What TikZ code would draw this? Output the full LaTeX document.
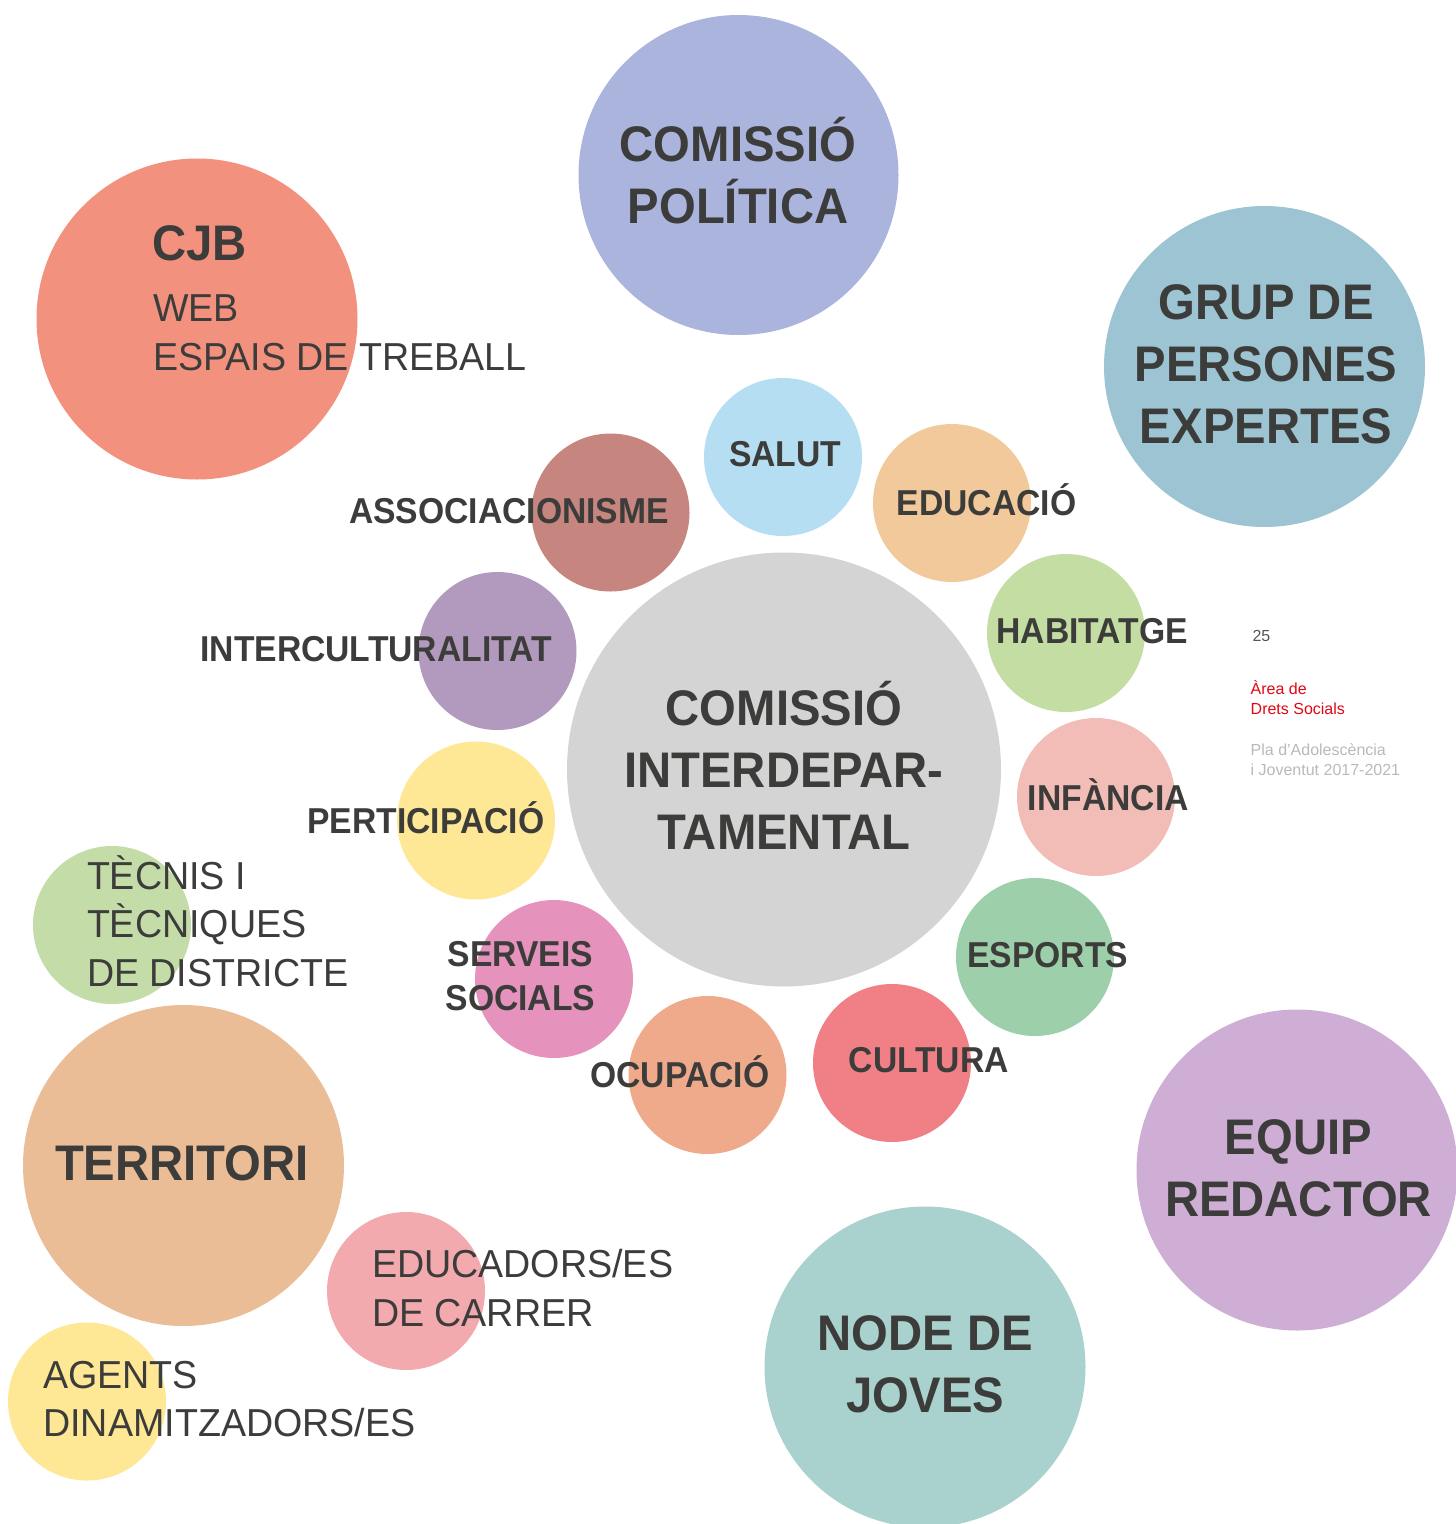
\documentclass[tikz,border=0pt]{standalone}
\usepackage{fontspec}
\setmainfont{Liberation Sans}
\newfontfamily\boldf{Liberation Sans}[FakeStretch=0.945]
\newfontfamily\boldsf{Liberation Sans}[FakeStretch=0.935]
\newfontfamily\regf{Liberation Sans}[FakeStretch=0.965]
\definecolor{txt}{HTML}{3C3C3B}
\definecolor{cpolit}{HTML}{AAB4DD}
\definecolor{ccjb}{HTML}{F2917E}
\definecolor{cgrup}{HTML}{9DC4D2}
\definecolor{ccentral}{HTML}{D4D4D4}
\definecolor{csalut}{HTML}{B6DEF2}
\definecolor{ceduc}{HTML}{F2C99B}
\definecolor{chabit}{HTML}{C3DDA2}
\definecolor{cinfan}{HTML}{F3BDB7}
\definecolor{cespor}{HTML}{9ECFAB}
\definecolor{ccultu}{HTML}{F08086}
\definecolor{cocupa}{HTML}{EFA98B}
\definecolor{cserve}{HTML}{E592BD}
\definecolor{cparti}{HTML}{FEE795}
\definecolor{cinter}{HTML}{B29ABE}
\definecolor{cassoc}{HTML}{C6857E}
\definecolor{ctecni}{HTML}{C4DDA8}
\definecolor{cterri}{HTML}{EABD97}
\definecolor{cedcar}{HTML}{F3AAAE}
\definecolor{cagent}{HTML}{FEE795}
\definecolor{cnode}{HTML}{A9D1CE}
\definecolor{cequip}{HTML}{CEAED4}
\definecolor{cred}{HTML}{E30613}
\definecolor{cgraytxt}{HTML}{B9B9B9}
\definecolor{cnum}{HTML}{555555}
\newcommand\linesC[1]{\vtop{\halign{\hfil##\hfil\cr#1\crcr}}}
\newcommand\linesL[1]{\vtop{\halign{##\hfil\cr#1\crcr}}}
\tikzset{
  bub/.style={circle, inner sep=0pt, draw=none, minimum size=#1},
  lbl/.style={inner sep=0pt, outer sep=0pt, text=txt},
  bigtxt/.style={lbl, font=\boldf\bfseries\fontsize{50}{62}\selectfont},
  smalltxt/.style={lbl, font=\boldsf\bfseries\fontsize{36}{43.6}\selectfont},
  regtxt/.style={lbl, font=\regf\fontsize{39}{48.5}\selectfont},
  sidetxt/.style={inner sep=0pt, outer sep=0pt, font=\fontsize{16}{20}\selectfont},
}
\begin{document}
\begin{tikzpicture}[x=1pt,y=-1pt]
\useasboundingbox (0,0) rectangle (1456,1524);
% bubbles
\node[bub=320pt, fill=cpolit]   (polit)   at (738.5,175) {};
\node[bub=321pt, fill=ccjb]     (cjb)     at (197,319) {};
\node[bub=321pt, fill=cgrup]    (grup)    at (1264.5,366.5) {};
\node[bub=434pt, fill=ccentral] (central) at (784,769.5) {};
\node[bub=158pt, fill=csalut]   (salut)   at (783,457) {};
\node[bub=158pt, fill=ceduc]    (educ)    at (952,503) {};
\node[bub=158pt, fill=chabit]   (habit)   at (1066,633) {};
\node[bub=158pt, fill=cinfan]   (infan)   at (1096,797) {};
\node[bub=158pt, fill=cespor]   (espor)   at (1035,957) {};
\node[bub=158pt, fill=ccultu]   (cultu)   at (892,1063) {};
\node[bub=158pt, fill=cocupa]   (ocupa)   at (707.5,1075) {};
\node[bub=158pt, fill=cserve]   (serve)   at (554,979) {};
\node[bub=158pt, fill=cparti]   (parti)   at (476,820.5) {};
\node[bub=158pt, fill=cinter]   (inter)   at (497.5,651) {};
\node[bub=158pt, fill=cassoc]   (assoc)   at (610.5,512.5) {};
\node[bub=158pt, fill=ctecni]   (tecni)   at (112,925) {};
\node[bub=321pt, fill=cterri]   (terri)   at (183.5,1165.5) {};
\node[bub=158pt, fill=cedcar]   (edcar)   at (406,1291) {};
\node[bub=158pt, fill=cagent]   (agent)   at (87,1401.5) {};
\node[bub=321pt, fill=cnode]    (node)    at (925,1367) {};
\node[bub=321pt, fill=cequip]   (equip)   at (1297,1170) {};
% big labels
\node[bigtxt, anchor=base] (tpolit) at (738,161.5) {\linesC{COMISSIÓ\cr POLÍTICA}};
\node[bigtxt, anchor=base] (tgrup) at (1266,319) {\linesC{GRUP DE\cr PERSONES\cr EXPERTES}};
\node[bigtxt, anchor=base] (tcentral) at (784,725.7) {\linesC{COMISSIÓ\cr INTERDEPAR-\cr TAMENTAL}};
\node[bigtxt, anchor=base] (tterri) at (182,1180) {TERRITORI};
\node[bigtxt, anchor=base] (tequip) at (1298.5,1154) {\linesC{EQUIP\cr REDACTOR}};
\node[bigtxt, anchor=base] (tnode) at (925.5,1350.5) {\linesC{NODE DE\cr JOVES}};
\node[bigtxt, anchor=base west] (tcjb) at (152,260) {CJB};
% small bold labels
\node[smalltxt, anchor=base] (tassoc) at (509,523) {ASSOCIACIONISME};
\node[smalltxt, anchor=base] (tsalut) at (785.3,466.7) {SALUT};
\node[smalltxt, anchor=base] (teduc) at (986.5,515.7) {EDUCACIÓ};
\node[smalltxt, anchor=base] (thabit) at (1092.3,643.3) {HABITATGE};
\node[smalltxt, anchor=base] (tinter) at (376.1,661.4) {INTERCULTURALITAT};
\node[smalltxt, anchor=base] (tinfan) at (1108.3,810) {INFÀNCIA};
\node[smalltxt, anchor=base] (tparti) at (425.8,833) {PERTICIPACIÓ};
\node[smalltxt, anchor=base] (tespor) at (1047.8,967.7) {ESPORTS};
\node[smalltxt, anchor=base] (tserve) at (520.5,966.8) {\linesC{SERVEIS\cr SOCIALS}};
\node[smalltxt, anchor=base] (tcultu) at (928.8,1072.7) {CULTURA};
\node[smalltxt, anchor=base] (tocupa) at (679.8,1087.4) {OCUPACIÓ};
% regular labels
\node[regtxt, anchor=base west] (tweb) at (153,321.7) {\linesL{WEB\cr ESPAIS DE TREBALL}};
\node[regtxt, anchor=base west] (ttecni) at (87,889) {\linesL{TÈCNIS I\cr TÈCNIQUES\cr DE DISTRICTE}};
\node[regtxt, anchor=base west] (tedcar) at (372,1277.6) {\linesL{EDUCADORS/ES\cr DE CARRER}};
\node[regtxt, anchor=base west] (tagent) at (43.3,1388) {\linesL{AGENTS\cr DINAMITZADORS/ES}};
% side texts
\node[sidetxt, text=cnum, anchor=base west] (tnum) at (1252.5,641.7) {25};
\node[sidetxt, text=cred, anchor=base west] (tarea) at (1250.7,694) {\linesL{Àrea de\cr Drets Socials}};
\node[sidetxt, text=cgraytxt, anchor=base west] (tpla) at (1250.7,755) {\linesL{Pla d’Adolescència\cr i Joventut 2017-2021}};
\end{tikzpicture}
\end{document}
